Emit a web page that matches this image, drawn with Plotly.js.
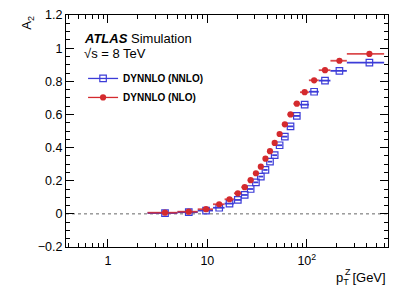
<!DOCTYPE html>
<html><head><meta charset="utf-8">
<script src="https://cdn.plot.ly/plotly-3.0.1.min.js"></script>
<style>html,body{margin:0;padding:0;background:#fff}#chart{width:409px;height:294px}</style>
</head><body><div id="chart"></div>
<script>
// pT(Z) bin edges [GeV]
const binEdges = [2.5, 5.0, 8.0, 11.4, 14.9, 18.5, 22.0, 25.5, 29.0, 32.6, 36.4, 40.4, 44.9, 50.2, 56.4, 63.9, 73.4, 85.4, 105.0, 132.0, 173.0, 253.0, 600.0];
// A2 predictions
const a2NNLO = [0.005, 0.010, 0.020, 0.037, 0.062, 0.084, 0.114, 0.150, 0.190, 0.225, 0.265, 0.315, 0.354, 0.414, 0.466, 0.528, 0.591, 0.659, 0.737, 0.804, 0.863, 0.913];
const a2NLO  = [0.007, 0.013, 0.028, 0.058, 0.088, 0.124, 0.161, 0.203, 0.245, 0.285, 0.333, 0.378, 0.428, 0.482, 0.540, 0.600, 0.665, 0.734, 0.806, 0.867, 0.924, 0.965];
const seriesNames = ['DYNNLO (NNLO)', 'DYNNLO (NLO)'];
const xTickVals = [1, 10, 100];
const xTickText = ['1', '10', '10<sup>2</sup>'];
const xMinorVals = [0.4,0.5,0.6,0.7,0.8,0.9,2,3,4,5,6,7,8,9,20,30,40,50,60,70,80,90,200,300,400,500,600];

const lo = binEdges.slice(0, -1);
const hi = binEdges.slice(1);
const centers = lo.map((l, i) => (l + hi[i]) / 2);
const errPlus = centers.map((c, i) => hi[i] - c);
const errMinus = centers.map((c, i) => c - lo[i]);

const BLUE = '#3c3cd8', RED = '#d42a2e';
const FONT = 'Liberation Sans, Arial, sans-serif';

const traces = [
  {x: centers, y: a2NNLO, type: 'scatter', mode: 'markers', showlegend: false,
   marker: {symbol: 'square-open', size: 6.5, color: BLUE, line: {width: 1.2, color: BLUE}},
   error_x: {type: 'data', symmetric: false, array: errPlus, arrayminus: errMinus, color: BLUE, thickness: 1.8, width: 0}},
  {x: centers, y: a2NLO, type: 'scatter', mode: 'markers', showlegend: false,
   marker: {symbol: 'circle', size: 6.2, color: RED},
   error_x: {type: 'data', symmetric: false, array: errPlus, arrayminus: errMinus, color: 'rgba(212,42,46,0.85)', thickness: 1.8, width: 0}},
  {x: [null], y: [null], type: 'scatter', mode: 'lines+markers', name: seriesNames[0],
   line: {color: BLUE, width: 1.3}, marker: {symbol: 'square-open', size: 6.5, color: BLUE, line: {width: 1.2, color: BLUE}}},
  {x: [null], y: [null], type: 'scatter', mode: 'lines+markers', name: seriesNames[1],
   line: {color: RED, width: 1.3}, marker: {symbol: 'circle', size: 6.2, color: RED}}
];

const layout = {
  width: 409, height: 294,
  margin: {l: 65.7, r: 21, t: 15, b: 47},
  paper_bgcolor: '#fff', plot_bgcolor: '#fff',
  font: {family: FONT, size: 12.5, color: '#000'},
  showlegend: true,
  legend: {x: 0.053, xanchor: 'left', y: 0.789, yanchor: 'top', bgcolor: 'rgba(0,0,0,0)', borderwidth: 0,
           font: {family: FONT, size: 10, color: '#000', weight: 'bold'}, tracegroupgap: 0},
  xaxis: {type: 'log', range: [-0.422, 2.817], showgrid: false, zeroline: false,
          showline: true, linecolor: '#000', linewidth: 1, mirror: 'ticks',
          ticks: 'inside', ticklen: 8, tickcolor: '#000', tickwidth: 1,
          tickmode: 'array', tickvals: xTickVals, ticktext: xTickText, ticklabelstandoff: 2,
          minor: {tickmode: 'array', tickvals: xMinorVals, ticks: 'inside', ticklen: 4, tickcolor: '#000', tickwidth: 1, showgrid: false}},
  yaxis: {range: [-0.2, 1.2], showgrid: false, zeroline: false,
          showline: true, linecolor: '#000', linewidth: 1, mirror: 'ticks',
          ticks: 'inside', ticklen: 8, tickcolor: '#000', tickwidth: 1,
          tick0: 0, dtick: 0.2,
          minor: {dtick: 0.05, ticks: 'inside', ticklen: 4, tickcolor: '#000', tickwidth: 1, showgrid: false}},
  shapes: [
    {type: 'line', xref: 'paper', x0: 0, x1: 1, yref: 'y', y0: 0, y1: 0, layer: 'below',
     line: {color: '#666', width: 1, dash: '3px,3px'}}
  ],
  annotations: [
    {text: '<b><i>ATLAS</i></b> Simulation', xref: 'paper', yref: 'paper', x: 0.0506, y: 0.899,
     xanchor: 'left', yanchor: 'middle', showarrow: false, font: {family: FONT, size: 13, color: '#000'}},
    {text: '√s = 8 TeV', xref: 'paper', yref: 'paper', x: 0.0506, y: 0.836,
     xanchor: 'left', yanchor: 'middle', showarrow: false, font: {family: FONT, size: 13, color: '#000'}},
    {text: 'A<sub>2</sub>', xref: 'paper', yref: 'paper', x: -0.12, y: 0.968, textangle: -90,
     xanchor: 'center', yanchor: 'middle', showarrow: false, font: {family: FONT, size: 13, color: '#000'}},
    {text: 'p<sub>T</sub> [GeV]', xref: 'paper', yref: 'paper', x: 1, y: -0.134,
     xanchor: 'right', yanchor: 'middle', showarrow: false, font: {family: FONT, size: 13, color: '#000'}},
    {text: 'Z', xref: 'paper', yref: 'paper', x: 0.876, y: -0.106,
     xanchor: 'center', yanchor: 'middle', showarrow: false, font: {family: FONT, size: 9, color: '#000'}}
  ]
};

Plotly.newPlot('chart', traces, layout, {displayModeBar: false, staticPlot: true});
</script>
</body></html>
